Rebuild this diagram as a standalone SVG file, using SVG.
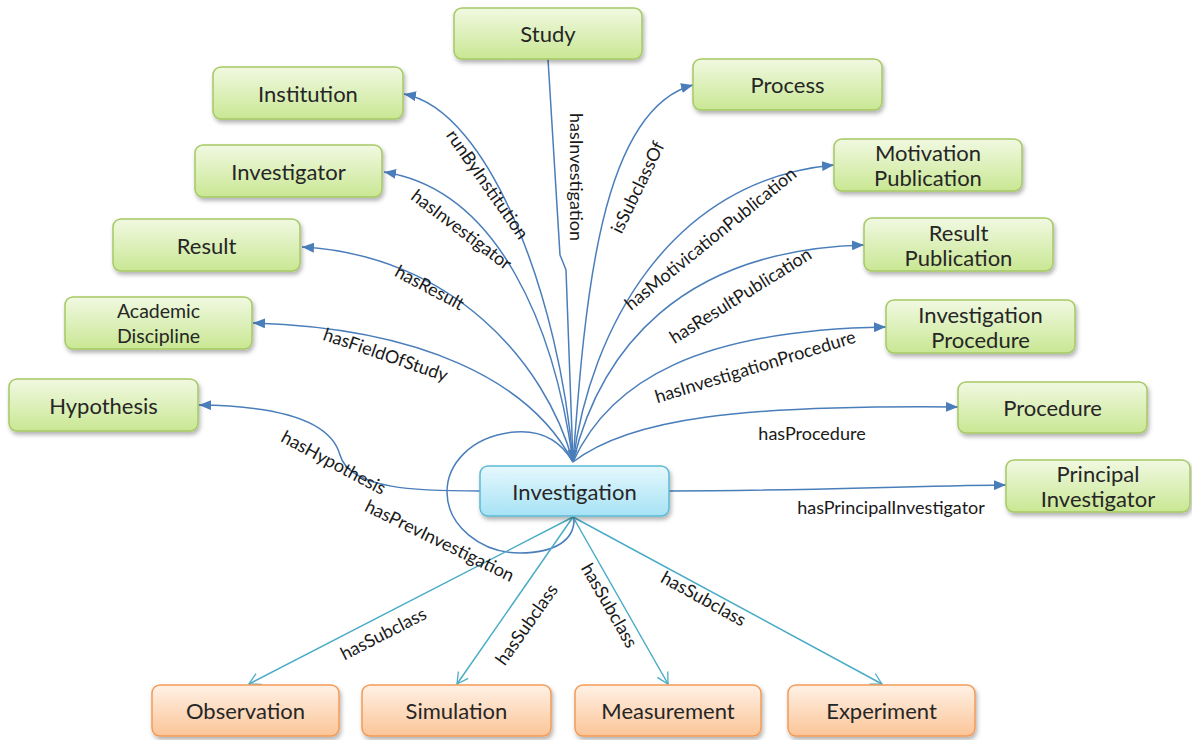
<svg xmlns="http://www.w3.org/2000/svg" width="1192" height="740" viewBox="0 0 1192 740">
  <defs>
    <linearGradient id="gGreen" x1="0" y1="0" x2="0" y2="1">
      <stop offset="0" stop-color="#f1f9e2"/>
      <stop offset="1" stop-color="#c9e793"/>
    </linearGradient>
    <linearGradient id="gBlue" x1="0" y1="0" x2="0" y2="1">
      <stop offset="0" stop-color="#e6f8fd"/>
      <stop offset="1" stop-color="#a6e2f5"/>
    </linearGradient>
    <linearGradient id="gOrange" x1="0" y1="0" x2="0" y2="1">
      <stop offset="0" stop-color="#fff1e6"/>
      <stop offset="1" stop-color="#fbc597"/>
    </linearGradient>
    <filter id="shadow" x="-10%" y="-20%" width="130%" height="160%">
      <feDropShadow dx="1.5" dy="3" stdDeviation="2" flood-color="#000" flood-opacity="0.3"/>
    </filter>
    <marker id="arrowBlue" markerUnits="userSpaceOnUse" markerWidth="13" markerHeight="10" refX="12" refY="5" orient="auto">
      <path d="M0,0 L12,5 L0,10 Z" fill="#4a7ebb"/>
    </marker>
    <marker id="arrowTeal" markerUnits="userSpaceOnUse" markerWidth="14" markerHeight="14" refX="12" refY="7" orient="auto">
      <path d="M1,1 L12,7 L1,13" fill="none" stroke="#4bacc6" stroke-width="1.3"/>
    </marker>
    <style>
      .node rect { filter: url(#shadow); }
      .green rect { fill: url(#gGreen); stroke: #a5c964; stroke-width: 1.5; }
      .blue rect { fill: url(#gBlue); stroke: #5cbad4; stroke-width: 1.5; }
      .orange rect { fill: url(#gOrange); stroke: #f59a55; stroke-width: 1.5; }
      .node text { font-family: Lato, "Liberation Sans", sans-serif; font-size: 22px; fill: #262626; text-anchor: middle; dominant-baseline: central; }
      .node text.small { font-size: 19.5px; }
      .edge { fill: none; stroke: #4a7ebb; stroke-width: 1.5; }
      .sub { fill: none; stroke: #4bacc6; stroke-width: 1.5; }
      .lbl { font-family: Lato, "Liberation Sans", sans-serif; font-size: 18px; fill: #1a1a1a; text-anchor: middle; dominant-baseline: central; }
    </style>
  </defs>

  <rect width="1192" height="740" fill="#ffffff"/>

  <!-- connectors -->
  <g id="connectors">
    <!-- Study -> Investigation -->
    <path class="edge" d="M548,59 L560,255 Q563,262 566,270 L573,462" marker-end="url(#arrowBlue)"/>
    <!-- fan from the top of Investigation -->
    <path class="edge" d="M573,462 C560,300 490,110 404,94" marker-end="url(#arrowBlue)"/>
    <path class="edge" d="M573,462 C555,330 500,190 384,172" marker-end="url(#arrowBlue)"/>
    <path class="edge" d="M573,462 C545,360 450,255 302,247" marker-end="url(#arrowBlue)"/>
    <path class="edge" d="M573,462 C530,380 420,328 253,323" marker-end="url(#arrowBlue)"/>
    <path class="edge" d="M573,462 C585,300 600,110 693,85" marker-end="url(#arrowBlue)"/>
    <path class="edge" d="M573,462 C590,330 670,180 834,165" marker-end="url(#arrowBlue)"/>
    <path class="edge" d="M573,462 C600,350 680,250 864,245" marker-end="url(#arrowBlue)"/>
    <path class="edge" d="M573,462 C610,380 700,330 886,327" marker-end="url(#arrowBlue)"/>
    <path class="edge" d="M573,462 C630,418 740,405 958,407" marker-end="url(#arrowBlue)"/>
    <!-- hasHypothesis -->
    <path class="edge" d="M480,491 C420,491 350,490 340,455 C332,425 290,406 199,405" marker-end="url(#arrowBlue)"/>
    <!-- hasPrevInvestigation (self loop) -->
    <path class="edge" d="M573,462 C560,440 540,430 515,432 C470,436 447,465 447,492 C447,525 480,553 520,553 C555,553 575,540 574,518"/>
    <!-- hasPrincipalInvestigator -->
    <path class="edge" d="M669,491 C800,491 900,486 1006,485" marker-end="url(#arrowBlue)"/>
    <!-- hasSubclass -->
    <path class="sub" d="M573,517 L249,684" marker-end="url(#arrowTeal)"/>
    <path class="sub" d="M573,517 L457,684" marker-end="url(#arrowTeal)"/>
    <path class="sub" d="M573,517 L668,684" marker-end="url(#arrowTeal)"/>
    <path class="sub" d="M573,517 L882,684" marker-end="url(#arrowTeal)"/>

    <!-- connector labels -->
    <text class="lbl" transform="translate(577,177) rotate(90)">hasInvestigation</text>
    <text class="lbl" transform="translate(488,184) rotate(55)">runByInstitution</text>
    <text class="lbl" transform="translate(462,229) rotate(37)">hasInvestigator</text>
    <text class="lbl" transform="translate(430,287) rotate(28)">hasResult</text>
    <text class="lbl" transform="translate(386,354) rotate(19)">hasFieldOfStudy</text>
    <text class="lbl" transform="translate(334,462) rotate(28)">hasHypothesis</text>
    <text class="lbl" transform="translate(440,540) rotate(26)">hasPrevInvestigation</text>
    <text class="lbl" transform="translate(637,187) rotate(-64)">isSubclassOf</text>
    <text class="lbl" transform="translate(710,238) rotate(-39)">hasMotivicationPublication</text>
    <text class="lbl" transform="translate(740,295) rotate(-32)">hasResultPublication</text>
    <text class="lbl" transform="translate(755,366) rotate(-17)">hasInvestigationProcedure</text>
    <text class="lbl" transform="translate(812,433)">hasProcedure</text>
    <text class="lbl" transform="translate(891,507)">hasPrincipalInvestigator</text>
    <text class="lbl" transform="translate(383,633) rotate(-27)">hasSubclass</text>
    <text class="lbl" transform="translate(526,624) rotate(-55)">hasSubclass</text>
    <text class="lbl" transform="translate(610,605) rotate(60)">hasSubclass</text>
    <text class="lbl" transform="translate(704,598) rotate(29)">hasSubclass</text>
  </g>

  <!-- nodes -->
  <g id="study" class="node green"><rect x="454" y="8" width="188" height="51" rx="8"/><text x="548" y="33.5">Study</text></g>
  <g id="institution" class="node green"><rect x="213" y="67" width="190" height="52" rx="8"/><text x="308" y="93">Institution</text></g>
  <g id="process" class="node green"><rect x="693" y="59" width="189" height="51" rx="8"/><text x="787.5" y="84.5">Process</text></g>
  <g id="investigator" class="node green"><rect x="195" y="145" width="187" height="52" rx="8"/><text x="288.5" y="171">Investigator</text></g>
  <g id="motivation-publication" class="node green"><rect x="834" y="139" width="188" height="52" rx="8"/><text x="928" y="152.5">Motivation</text><text x="928" y="177.5">Publication</text></g>
  <g id="result" class="node green"><rect x="113" y="219" width="187" height="52" rx="8"/><text x="206.5" y="245">Result</text></g>
  <g id="result-publication" class="node green"><rect x="864" y="218" width="189" height="53" rx="8"/><text x="958.5" y="232">Result</text><text x="958.5" y="257">Publication</text></g>
  <g id="academic-discipline" class="node green"><rect x="65" y="297" width="187" height="52" rx="8"/><text class="small" x="158.5" y="310.5">Academic</text><text class="small" x="158.5" y="335.5">Discipline</text></g>
  <g id="investigation-procedure" class="node green"><rect x="886" y="300" width="189" height="53" rx="8"/><text x="980.5" y="314">Investigation</text><text x="980.5" y="339">Procedure</text></g>
  <g id="hypothesis" class="node green"><rect x="9" y="379" width="189" height="52" rx="8"/><text x="103.5" y="405">Hypothesis</text></g>
  <g id="procedure" class="node green"><rect x="958" y="382" width="189" height="51" rx="8"/><text x="1052.5" y="407.5">Procedure</text></g>
  <g id="investigation" class="node blue"><rect x="480" y="466" width="189" height="50" rx="8"/><text x="574.5" y="491">Investigation</text></g>
  <g id="principal-investigator" class="node green"><rect x="1006" y="460" width="184" height="52" rx="8"/><text x="1098" y="473.5">Principal</text><text x="1098" y="498.5">Investigator</text></g>
  <g id="observation" class="node orange"><rect x="152" y="685" width="187" height="51" rx="8"/><text x="245.5" y="710.5">Observation</text></g>
  <g id="simulation" class="node orange"><rect x="362" y="685" width="189" height="51" rx="8"/><text x="456.5" y="710.5">Simulation</text></g>
  <g id="measurement" class="node orange"><rect x="575" y="685" width="186" height="51" rx="8"/><text x="668" y="710.5">Measurement</text></g>
  <g id="experiment" class="node orange"><rect x="788" y="685" width="187" height="51" rx="8"/><text x="881.5" y="710.5">Experiment</text></g>
</svg>
